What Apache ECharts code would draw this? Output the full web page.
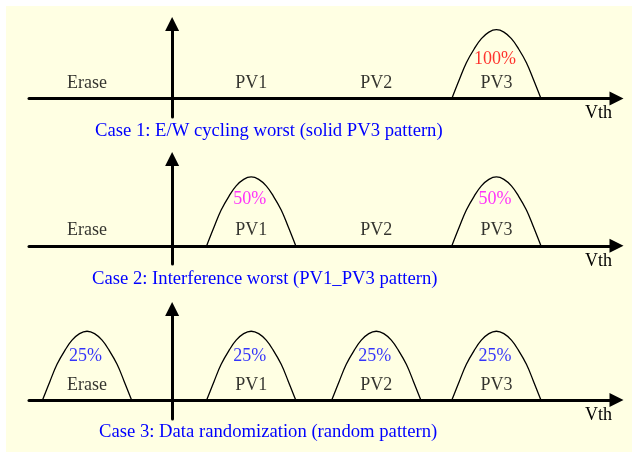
<!DOCTYPE html>
<html>
<head>
<meta charset="utf-8">
<script src="https://cdn.jsdelivr.net/npm/echarts@6/dist/echarts.min.js"></script>
<style>
html, body { margin: 0; padding: 0; background: #fff; }
#main { width: 632px; height: 452px; }
</style>
</head>
<body>
<div id="main"></div>
<script>
// Vth states and where each distribution sits on the Vth axis
var states = ['Erase', 'PV1', 'PV2', 'PV3'];
var stateVth = [-8.5, 7.9, 20.4, 32.4];
// shape of one distribution, relative to its centre
var bellOffset = [-4.45, -3.7, -3.0, -2.2, -1.5, -0.75, 0, 0.75, 1.5, 2.2, 3.0, 3.7, 4.45];
var bellHeight = [0, 0.275, 0.52, 0.725, 0.87, 0.965, 1, 0.965, 0.87, 0.725, 0.52, 0.275, 0];
// cell share per state for each case (%)
var case1Share = [0, 0, 0, 100];
var case2Share = [0, 50, 0, 50];
var case3Share = [25, 25, 25, 25];
var captions = [
    'Case 1: E/W cycling worst (solid PV3 pattern)',
    'Case 2: Interference worst (PV1_PV3 pattern)',
    'Case 3: Data randomization (random pattern)'
];

var serif = "'Liberation Serif', 'Times New Roman', serif";
var shares = [case1Share, case2Share, case3Share];
var pctColors = ['#ff0000', '#ff00ff', '#0000ff'];
var pctY = [0.575, 0.67, 0.64];
var gridTop = [24, 159, 309];
var gridHeight = [93, 105, 110];
var yMin = [-0.27, -0.265, -0.275];
var yMax = [1.083, 1.261, 1.323];
var captionLeft = [95, 92, 99];
var captionTop = [122, 270, 423];

var chart = echarts.init(document.getElementById('main'));

var grids = [], xAxes = [], yAxes = [], series = [], titles = [];
for (var p = 0; p < 3; p++) {
    grids.push({ left: 29, right: 15.5, top: gridTop[p], height: gridHeight[p] });
    xAxes.push({
        type: 'value',
        gridIndex: p,
        min: -14.3,
        max: 44.4,
        name: 'Vth',
        nameLocation: 'end',
        nameGap: -18,
        nameTextStyle: {
            color: '#000',
            fontFamily: serif,
            fontSize: 18,
            align: 'center',
            verticalAlign: 'top',
            lineHeight: 30
        },
        axisLine: {
            onZero: true,
            symbol: ['none', 'triangle'],
            symbolSize: [14, 14],
            lineStyle: { color: '#000', width: 3 }
        },
        axisTick: { show: false },
        axisLabel: { show: false },
        splitLine: { show: false }
    });
    yAxes.push({
        type: 'value',
        gridIndex: p,
        min: yMin[p],
        max: yMax[p],
        axisLine: {
            onZero: true,
            symbol: ['none', 'triangle'],
            symbolSize: [14, 14],
            lineStyle: { color: '#000', width: 3 }
        },
        axisTick: { show: false },
        axisLabel: { show: false },
        splitLine: { show: false }
    });
    titles.push({
        text: captions[p],
        left: captionLeft[p],
        top: captionTop[p],
        padding: 0,
        textStyle: { color: '#0000ff', fontFamily: serif, fontSize: 18.67, fontWeight: 'normal' }
    });

    var pctData = [];
    for (var i = 0; i < states.length; i++) {
        if (!shares[p][i]) continue;
        var c = stateVth[i];
        series.push({
            type: 'line',
            xAxisIndex: p,
            yAxisIndex: p,
            smooth: 0.4,
            showSymbol: false,
            silent: true,
            lineStyle: { color: '#000', width: 1.3 },
            data: bellOffset.map(function (o, k) { return [c + o, bellHeight[k]]; })
        });
        pctData.push({ value: [c - 0.15, pctY[p]], name: shares[p][i] + '%' });
    }
    series.push({
        type: 'scatter',
        xAxisIndex: p,
        yAxisIndex: p,
        symbolSize: 0,
        silent: true,
        itemStyle: { color: 'transparent' },
        label: {
            show: true,
            position: 'inside',
            formatter: '{b}',
            color: '#000',
            fontFamily: serif,
            fontSize: 18
        },
        data: states.map(function (s, i) { return { value: [stateVth[i], 0.22], name: s }; })
    });
    series.push({
        type: 'scatter',
        xAxisIndex: p,
        yAxisIndex: p,
        symbolSize: 0,
        silent: true,
        itemStyle: { color: 'transparent' },
        label: {
            show: true,
            position: 'inside',
            formatter: '{b}',
            color: pctColors[p],
            fontFamily: serif,
            fontSize: 18
        },
        data: pctData
    });
}

chart.setOption({
    backgroundColor: '#fff',
    animation: false,
    graphic: [{
        type: 'rect',
        z: -100,
        silent: true,
        shape: { x: 6, y: 6, width: 626, height: 446 },
        style: { fill: '#ffffe3' }
    }],
    title: titles,
    grid: grids,
    xAxis: xAxes,
    yAxis: yAxes,
    series: series
});
</script>
</body>
</html>
